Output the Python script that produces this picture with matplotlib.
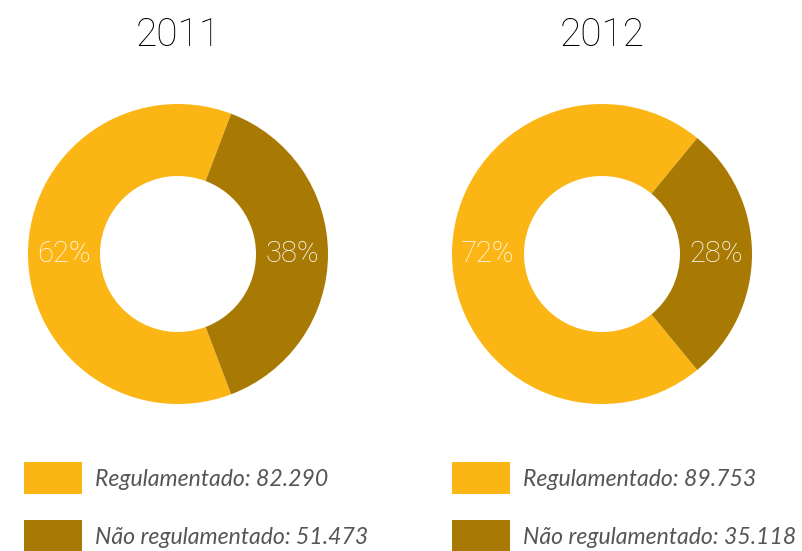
import matplotlib.pyplot as plt
from matplotlib.patches import Rectangle

# Receita por tipo de mercado
years = ['2011', '2012']
regulado = [82290, 89753]
nao_regulado = [51473, 35118]
labels_reg = ['Regulamentado: 82.290', 'Regulamentado: 89.753']
labels_nao = ['Não regulamentado: 51.473', 'Não regulamentado: 35.118']

yellow = '#FBB616'
dark = '#A87A03'

plt.rcParams['font.family'] = ['Lato', 'DejaVu Sans']

W, H = 802, 551
fig = plt.figure(figsize=(W / 100, H / 100), dpi=100)

centers_x = [178, 602]
legend_x = [24, 452]
cy, r = 254, 150

for i, year in enumerate(years):
    cx = centers_x[i]
    ax = fig.add_axes([(cx - r) / W, (H - cy - r) / H, 2 * r / W, 2 * r / H])
    vals = [regulado[i], nao_regulado[i]]
    p1 = vals[0] / sum(vals)
    wedges, texts, autotexts = ax.pie(
        vals, colors=[yellow, dark], startangle=180 - 180 * p1,
        autopct='%.0f%%', pctdistance=0.76,
        wedgeprops=dict(width=0.48, edgecolor='none'),
        textprops=dict(color='white', fontsize=21, family='Roboto',
                       fontweight='light'))
    ax.set_xlim(-1, 1)
    ax.set_ylim(-1, 1)
    ax.set_aspect('equal')
    ax.axis('off')

    fig.text(cx / W, 1 - 35 / H, year, ha='center', va='center',
             fontsize=28, family='Roboto', fontweight='light', color='black')

    # legenda
    lx = legend_x[i]
    for j, (lab, col) in enumerate([(labels_reg[i], yellow), (labels_nao[i], dark)]):
        top = 462 + j * 58
        fig.patches.append(Rectangle((lx / W, 1 - (top + 32) / H), 58 / W, 32 / H,
                                     transform=fig.transFigure, facecolor=col,
                                     edgecolor='none'))
        fig.text((lx + 71) / W, 1 - (top + 18) / H, lab, ha='left', va='center',
                 fontsize=16.6, style='italic', color='#555555')

fig.savefig('out.png', dpi=100, facecolor='white')
